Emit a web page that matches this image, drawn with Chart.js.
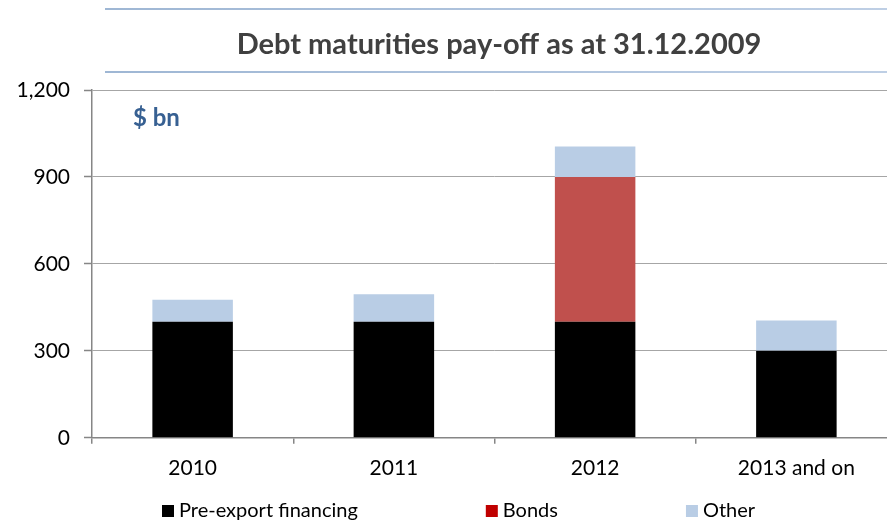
<!DOCTYPE html>
<html>
<head>
<meta charset="utf-8">
<script src="https://cdn.jsdelivr.net/npm/chart.js@4"></script>
<style>
  html, body { margin: 0; padding: 0; background: #ffffff; overflow: hidden; }
  #wrap { width: 887px; height: 521px; position: relative; overflow: hidden; }
</style>
</head>
<body>
<div id="wrap"><canvas id="c" width="897" height="521"></canvas></div>
<script>
// Debt maturity schedule, $ bn
const categories = ['2010', '2011', '2012', '2013 and on'];
const preExport = [400, 400, 400, 300];
const bonds = [0, 0, 500, 0];
const other = [76, 95, 105, 105];
const yTicks = [0, 300, 600, 900, 1200];

const FONT = 'Lato, Carlito, Calibri, sans-serif';

// Title with blue rules above and below, the unit caption and the legend row
const decorations = {
  id: 'decorations',
  afterDraw(chart) {
    const ctx = chart.ctx;
    ctx.save();
    const grad = ctx.createLinearGradient(105, 0, 887, 0);
    grad.addColorStop(0, '#7f9fc6');
    grad.addColorStop(1, '#a9bfdc');
    ctx.strokeStyle = grad;
    ctx.lineWidth = 1.5;
    ctx.beginPath();
    ctx.moveTo(105, 9); ctx.lineTo(887, 9);
    ctx.moveTo(105, 72); ctx.lineTo(887, 72);
    ctx.stroke();

    ctx.fillStyle = '#404040';
    ctx.font = 'bold 29px ' + FONT;
    ctx.textAlign = 'center';
    ctx.textBaseline = 'middle';
    ctx.fillText('Debt maturities pay-off as at 31.12.2009', 499, 45);

    ctx.fillStyle = '#376092';
    ctx.font = 'bold 24px ' + FONT;
    ctx.textAlign = 'left';
    ctx.fillText('$ bn', 133, 118);

    ctx.font = '20px ' + FONT;
    ctx.textBaseline = 'middle';
    const legendColors = ['#000000', '#c00000', '#b9cde5'];
    let x = 162;
    const y = 511;
    chart.data.datasets.forEach((ds, i) => {
      ctx.fillStyle = legendColors[i];
      ctx.fillRect(x, y - 6, 12, 12);
      ctx.fillStyle = '#000000';
      ctx.fillText(ds.label, x + 17, y);
      x += 17 + ctx.measureText(ds.label).width + 128;
    });
    ctx.restore();
  }
};

new Chart(document.getElementById('c'), {
  type: 'bar',
  data: {
    labels: categories,
    datasets: [
      { label: 'Pre-export financing', data: preExport, backgroundColor: '#000000' },
      { label: 'Bonds', data: bonds, backgroundColor: '#c0504d' },
      { label: 'Other', data: other, backgroundColor: '#b9cde5' }
    ]
  },
  options: {
    responsive: false,
    animation: false,
    layout: { padding: { top: 90, left: 10, right: 0, bottom: 28 } },
    datasets: { bar: { categoryPercentage: 1, barPercentage: 0.4 } },
    plugins: {
      legend: { display: false },
      title: { display: false },
      tooltip: { enabled: false }
    },
    scales: {
      x: {
        stacked: true,
        border: { color: '#868686', width: 1.5 },
        grid: { offset: true, drawOnChartArea: false, tickLength: 6, color: '#868686', lineWidth: 1.5 },
        ticks: { color: '#000000', font: { family: FONT, size: 21 }, padding: 12 }
      },
      y: {
        stacked: true,
        min: 0,
        max: 1200,
        afterBuildTicks(axis) { axis.ticks = yTicks.map(v => ({ value: v })); },
        afterFit(axis) { axis.width = 82; },
        border: { color: '#868686', width: 1.5 },
        grid: {
          color: '#a6a6a6', lineWidth: 1, borderDash: [3, 3],
          tickLength: 8, tickColor: '#868686', tickBorderDash: [], tickWidth: 1.5
        },
        ticks: {
          color: '#000000', font: { family: FONT, size: 21 }, padding: 14,
          callback: v => v.toLocaleString('en-US')
        }
      }
    }
  },
  plugins: [decorations]
});
</script>
</body>
</html>
